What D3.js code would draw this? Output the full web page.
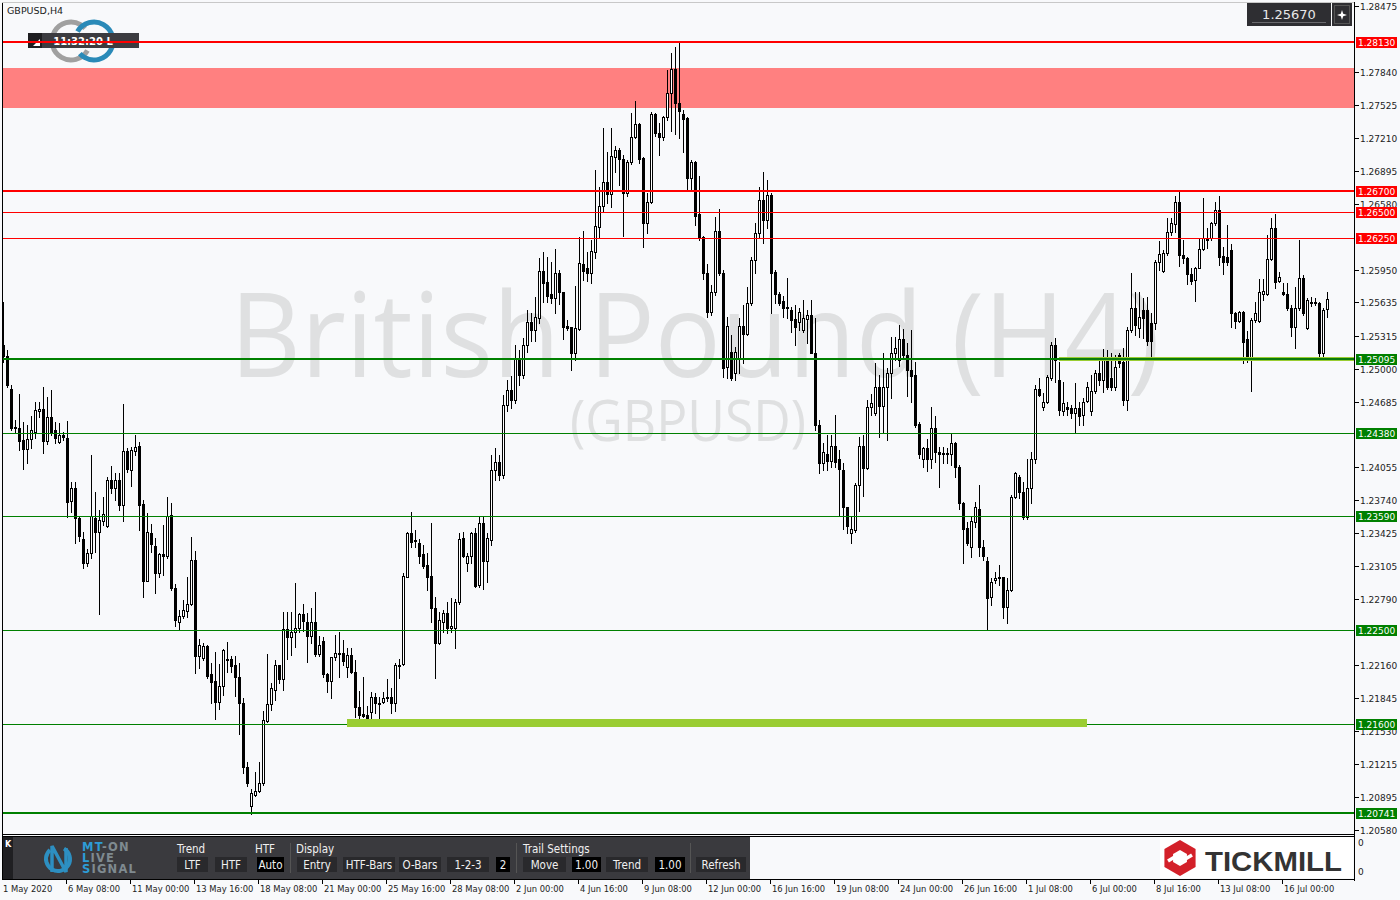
<!DOCTYPE html>
<html><head><meta charset="utf-8">
<script src="https://cdn.jsdelivr.net/npm/d3@7"></script>
<style>
html,body{margin:0;padding:0;background:#f8f9fb;}
svg{display:block;font-family:"DejaVu Sans",Verdana,sans-serif;}
</style></head><body>
<svg id="chart" width="1400" height="900"></svg>
<script>
// ---------------- DATA ----------------
const symbol = "GBPUSD,H4";
const currentPrice = 1.25670;
const open = [1.2523,1.2512,1.2481,1.2444,1.2443,1.2432,1.2423,1.2433,1.2439,1.2459,
1.2461,1.2431,1.2454,1.2441,1.2430,1.2436,1.2434,1.2373,1.2386,1.2357,
1.2337,1.2314,1.2323,1.2357,1.2344,1.2354,1.2349,1.2393,1.2386,1.2393,
1.2369,1.2421,1.2403,1.2421,1.2426,1.2370,1.2297,1.2343,1.2330,1.2304,
1.2322,1.2321,1.2360,1.2290,1.2257,1.2263,1.2268,1.2275,1.2317,1.2225,
1.2223,1.2234,1.2207,1.2201,1.2181,1.2196,1.2222,1.2222,1.2216,1.2205,
1.2180,1.2118,1.2081,1.2092,1.2095,1.2103,1.2162,1.2179,1.2192,1.2216,
1.2203,1.2251,1.2243,1.2248,1.2252,1.2265,1.2257,1.2244,1.2257,1.2227,
1.2239,1.2207,1.2201,1.2224,1.2228,1.2228,1.2214,1.2226,1.2209,1.2176,
1.2169,1.2168,1.2171,1.2185,1.2180,1.2181,1.2184,1.2185,1.2180,1.2216,
1.2217,1.2300,1.2343,1.2336,1.2333,1.2322,1.2312,1.2301,1.2271,1.2237,
1.2257,1.2266,1.2252,1.2252,1.2276,1.2338,1.2314,1.2321,1.2343,1.2293,
1.2352,1.2316,1.2336,1.2403,1.2411,1.2398,1.2465,1.2480,1.2470,1.2510,
1.2494,1.2523,1.2545,1.2537,1.2549,1.2594,1.2583,1.2572,1.2568,1.2592,
1.2573,1.2541,1.2540,1.2515,1.2538,1.2600,1.2596,1.2592,1.2612,1.2636,
1.2656,1.2679,1.2667,1.2703,1.2710,1.2701,1.2668,1.2698,1.2722,1.2734,
1.2702,1.2640,1.2660,1.2744,1.2726,1.2722,1.2741,1.2764,1.2787,1.2755,
1.2744,1.2740,1.2683,1.2698,1.2648,1.2626,1.2592,1.2554,1.2573,1.2632,
1.2592,1.2502,1.2516,1.2496,1.2509,1.2541,1.2533,1.2563,1.2604,1.2630,
1.2662,1.2642,1.2666,1.2593,1.2572,1.2565,1.2558,1.2556,1.2548,1.2545,
1.2537,1.2548,1.2551,1.2515,1.2446,1.2410,1.2418,1.2412,1.2426,1.2413,
1.2403,1.2367,1.2343,1.2345,1.2389,1.2426,1.2405,1.2463,1.2458,1.2482,
1.2464,1.2482,1.2496,1.2515,1.2508,1.2528,1.2513,1.2499,1.2494,1.2447,
1.2413,1.2424,1.2413,1.2443,1.2420,1.2419,1.2419,1.2418,1.2429,1.2406,
1.2371,1.2347,1.2329,1.2353,1.2366,1.2329,1.2316,1.2281,1.2298,1.2299,
1.2300,1.2272,1.2288,1.2377,1.2396,1.2382,1.2358,1.2386,1.2413,1.2481,
1.2463,1.2468,1.2491,1.2523,1.2489,1.2459,1.2463,1.2462,1.2458,1.2462,
1.2456,1.2469,1.2459,1.2479,1.2496,1.2489,1.2510,1.2491,1.2482,1.2513,
1.2506,1.2470,1.2537,1.2558,1.2539,1.2556,1.2556,1.2544,1.2544,1.2602,
1.2594,1.2611,1.2631,1.2639,1.2660,1.2609,1.2606,1.2591,1.2585,1.2596,
1.2615,1.2625,1.2625,1.2640,1.2652,1.2608,1.2607,1.2614,1.2553,1.2546,
1.2554,1.2528,1.2511,1.2547,1.2546,1.2572,1.2572,1.2605,1.2635,1.2584,
1.2573,1.2572,1.2558,1.2540,1.2558,1.2587,1.2539,1.2564,1.2564,1.2563,
1.2515,1.2557];
const high = [1.2564,1.2518,1.2484,1.2451,1.2476,1.2449,1.2446,1.2455,1.2468,1.2468,
1.2482,1.2473,1.2480,1.2449,1.2448,1.2439,1.2450,1.2391,1.2391,1.2358,
1.2344,1.2327,1.2417,1.2382,1.2365,1.2377,1.2396,1.2407,1.2400,1.2400,
1.2466,1.2424,1.2425,1.2436,1.2430,1.2374,1.2362,1.2351,1.2338,1.2323,
1.2350,1.2377,1.2371,1.2294,1.2269,1.2278,1.2300,1.2339,1.2325,1.2241,
1.2237,1.2235,1.2218,1.2229,1.2217,1.2231,1.2238,1.2225,1.2225,1.2218,
1.2184,1.2123,1.2097,1.2114,1.2123,1.2172,1.2227,1.2199,1.2221,1.2216,
1.2267,1.2267,1.2267,1.2295,1.2266,1.2275,1.2266,1.2271,1.2286,1.2244,
1.2243,1.2208,1.2224,1.2245,1.2248,1.2240,1.2232,1.2232,1.2221,1.2191,
1.2205,1.2177,1.2190,1.2189,1.2185,1.2190,1.2203,1.2194,1.2218,1.2222,
1.2304,1.2344,1.2363,1.2345,1.2337,1.2331,1.2323,1.2352,1.2281,1.2267,
1.2269,1.2276,1.2280,1.2279,1.2343,1.2344,1.2323,1.2344,1.2347,1.2358,
1.2359,1.2343,1.2417,1.2424,1.2417,1.2475,1.2489,1.2493,1.2523,1.2518,
1.2529,1.2556,1.2553,1.2569,1.2606,1.2612,1.2607,1.2602,1.2615,1.2595,
1.2573,1.2547,1.2540,1.2579,1.2626,1.2632,1.2612,1.2623,1.2690,1.2674,
1.2731,1.2708,1.2731,1.2713,1.2711,1.2705,1.2700,1.2745,1.2756,1.2735,
1.2703,1.2668,1.2746,1.2745,1.2735,1.2742,1.2786,1.2802,1.2808,1.2812,
1.2748,1.2741,1.2700,1.2699,1.2685,1.2627,1.2600,1.2580,1.2645,1.2653,
1.2595,1.2550,1.2532,1.2521,1.2549,1.2561,1.2578,1.2607,1.2640,1.2674,
1.2688,1.2681,1.2668,1.2595,1.2573,1.2570,1.2587,1.2559,1.2561,1.2558,
1.2566,1.2556,1.2566,1.2549,1.2451,1.2429,1.2436,1.2436,1.2456,1.2422,
1.2410,1.2367,1.2358,1.2390,1.2435,1.2436,1.2470,1.2476,1.2505,1.2494,
1.2515,1.2501,1.2530,1.2530,1.2542,1.2538,1.2525,1.2537,1.2506,1.2449,
1.2425,1.2433,1.2463,1.2455,1.2425,1.2425,1.2424,1.2437,1.2430,1.2408,
1.2372,1.2353,1.2358,1.2372,1.2389,1.2336,1.2320,1.2299,1.2305,1.2312,
1.2300,1.2299,1.2379,1.2401,1.2398,1.2391,1.2413,1.2420,1.2484,1.2491,
1.2477,1.2494,1.2526,1.2529,1.2506,1.2487,1.2468,1.2465,1.2486,1.2468,
1.2472,1.2487,1.2494,1.2499,1.2510,1.2519,1.2518,1.2515,1.2513,1.2515,
1.2520,1.2540,1.2592,1.2573,1.2573,1.2568,1.2569,1.2553,1.2604,1.2622,
1.2614,1.2644,1.2644,1.2665,1.2669,1.2623,1.2607,1.2596,1.2597,1.2625,
1.2664,1.2635,1.2641,1.2660,1.2665,1.2617,1.2638,1.2619,1.2554,1.2555,
1.2555,1.2536,1.2549,1.2564,1.2586,1.2586,1.2628,1.2644,1.2648,1.2593,
1.2582,1.2582,1.2561,1.2578,1.2623,1.2590,1.2568,1.2569,1.2568,1.2564,
1.2558,1.2573];
const low = [1.2506,1.2482,1.2441,1.2439,1.2422,1.2404,1.2410,1.2424,1.2434,1.2454,
1.2419,1.2428,1.2436,1.2429,1.2429,1.2432,1.2358,1.2363,1.2333,1.2335,
1.2309,1.2311,1.2319,1.2324,1.2265,1.2350,1.2348,1.2381,1.2374,1.2365,
1.2354,1.2401,1.2388,1.2417,1.2345,1.2281,1.2297,1.2324,1.2285,1.2300,
1.2302,1.2319,1.2288,1.2253,1.2251,1.2261,1.2262,1.2274,1.2208,1.2213,
1.2221,1.2204,1.2180,1.2164,1.2174,1.2187,1.2209,1.2209,1.2186,1.2150,
1.2113,1.2100,1.2073,1.2091,1.2094,1.2101,1.2161,1.2173,1.2183,1.2199,
1.2192,1.2222,1.2226,1.2233,1.2248,1.2249,1.2219,1.2237,1.2225,1.2225,
1.2205,1.2190,1.2184,1.2221,1.2205,1.2216,1.2205,1.2208,1.2166,1.2162,
1.2166,1.2161,1.2163,1.2170,1.2162,1.2180,1.2182,1.2170,1.2172,1.2204,
1.2216,1.2300,1.2329,1.2329,1.2314,1.2309,1.2288,1.2257,1.2204,1.2236,
1.2248,1.2247,1.2248,1.2232,1.2275,1.2320,1.2306,1.2314,1.2291,1.2291,
1.2289,1.2296,1.2331,1.2393,1.2393,1.2395,1.2459,1.2462,1.2467,1.2484,
1.2491,1.2516,1.2527,1.2527,1.2544,1.2564,1.2564,1.2563,1.2553,1.2562,
1.2528,1.2537,1.2499,1.2508,1.2537,1.2585,1.2584,1.2582,1.2606,1.2626,
1.2651,1.2659,1.2655,1.2688,1.2676,1.2627,1.2665,1.2696,1.2721,1.2697,
1.2617,1.2630,1.2659,1.2723,1.2705,1.2719,1.2738,1.2728,1.2725,1.2721,
1.2708,1.2671,1.2670,1.2638,1.2623,1.2586,1.2550,1.2551,1.2571,1.2590,
1.2492,1.2491,1.2489,1.2489,1.2496,1.2505,1.2532,1.2561,1.2592,1.2625,
1.2620,1.2635,1.2553,1.2563,1.2561,1.2550,1.2549,1.2535,1.2523,1.2537,
1.2535,1.2525,1.2515,1.2441,1.2400,1.2403,1.2403,1.2406,1.2406,1.2360,
1.2346,1.2343,1.2333,1.2344,1.2364,1.2378,1.2404,1.2456,1.2456,1.2435,
1.2439,1.2432,1.2472,1.2508,1.2503,1.2509,1.2474,1.2468,1.2444,1.2414,
1.2406,1.2402,1.2405,1.2411,1.2387,1.2410,1.2410,1.2408,1.2396,1.2366,
1.2314,1.2331,1.2320,1.2348,1.2321,1.2317,1.2250,1.2274,1.2295,1.2293,
1.2261,1.2256,1.2287,1.2376,1.2376,1.2356,1.2356,1.2371,1.2410,1.2474,
1.2460,1.2467,1.2489,1.2487,1.2456,1.2456,1.2456,1.2453,1.2438,1.2446,
1.2446,1.2468,1.2456,1.2477,1.2484,1.2478,1.2481,1.2480,1.2480,1.2502,
1.2465,1.2460,1.2535,1.2532,1.2530,1.2529,1.2523,1.2508,1.2538,1.2595,
1.2593,1.2609,1.2628,1.2631,1.2598,1.2601,1.2581,1.2581,1.2565,1.2596,
1.2614,1.2616,1.2623,1.2638,1.2599,1.2591,1.2599,1.2540,1.2539,1.2545,
1.2505,1.2506,1.2479,1.2545,1.2545,1.2566,1.2571,1.2604,1.2577,1.2583,
1.2571,1.2556,1.2531,1.2520,1.2556,1.2551,1.2538,1.2560,1.2561,1.2510,
1.2512,1.2550];
const close = [1.2512,1.2484,1.2443,1.2443,1.2431,1.2423,1.2433,1.2441,1.2460,1.2461,
1.2431,1.2454,1.2439,1.2434,1.2436,1.2435,1.2372,1.2386,1.2357,1.2340,
1.2314,1.2323,1.2359,1.2344,1.2355,1.2361,1.2393,1.2386,1.2393,1.2369,
1.2421,1.2404,1.2422,1.2425,1.2369,1.2297,1.2344,1.2332,1.2304,1.2322,
1.2321,1.2359,1.2290,1.2259,1.2263,1.2269,1.2275,1.2317,1.2225,1.2235,
1.2234,1.2206,1.2200,1.2181,1.2196,1.2230,1.2221,1.2215,1.2205,1.2180,
1.2118,1.2103,1.2093,1.2095,1.2103,1.2163,1.2179,1.2194,1.2216,1.2203,
1.2251,1.2243,1.2248,1.2252,1.2265,1.2258,1.2244,1.2257,1.2227,1.2235,
1.2207,1.2201,1.2224,1.2228,1.2227,1.2220,1.2226,1.2209,1.2176,1.2168,
1.2167,1.2163,1.2185,1.2180,1.2179,1.2184,1.2185,1.2180,1.2216,1.2215,
1.2301,1.2343,1.2334,1.2335,1.2321,1.2311,1.2300,1.2271,1.2237,1.2259,
1.2266,1.2252,1.2253,1.2276,1.2337,1.2321,1.2321,1.2343,1.2292,1.2352,
1.2316,1.2338,1.2403,1.2411,1.2398,1.2465,1.2480,1.2470,1.2510,1.2494,
1.2523,1.2545,1.2537,1.2550,1.2594,1.2582,1.2570,1.2568,1.2592,1.2573,
1.2540,1.2539,1.2515,1.2539,1.2601,1.2594,1.2592,1.2613,1.2637,1.2656,
1.2679,1.2667,1.2704,1.2710,1.2701,1.2668,1.2698,1.2722,1.2734,1.2701,
1.2640,1.2660,1.2744,1.2726,1.2722,1.2741,1.2764,1.2787,1.2755,1.2747,
1.2739,1.2683,1.2698,1.2646,1.2626,1.2592,1.2554,1.2573,1.2632,1.2592,
1.2501,1.2541,1.2491,1.2516,1.2541,1.2533,1.2563,1.2604,1.2630,1.2662,
1.2642,1.2666,1.2592,1.2572,1.2563,1.2558,1.2559,1.2547,1.2540,1.2554,
1.2549,1.2551,1.2515,1.2446,1.2410,1.2420,1.2412,1.2426,1.2411,1.2404,
1.2367,1.2349,1.2346,1.2389,1.2426,1.2405,1.2463,1.2467,1.2482,1.2464,
1.2482,1.2496,1.2515,1.2520,1.2528,1.2513,1.2499,1.2493,1.2446,1.2418,
1.2424,1.2413,1.2443,1.2420,1.2418,1.2418,1.2418,1.2429,1.2406,1.2371,
1.2346,1.2333,1.2354,1.2367,1.2329,1.2321,1.2280,1.2296,1.2299,1.2300,
1.2272,1.2288,1.2377,1.2400,1.2382,1.2358,1.2386,1.2413,1.2481,1.2475,
1.2468,1.2492,1.2523,1.2508,1.2460,1.2467,1.2461,1.2458,1.2462,1.2455,
1.2468,1.2482,1.2479,1.2496,1.2489,1.2510,1.2482,1.2482,1.2502,1.2505,
1.2470,1.2537,1.2558,1.2542,1.2550,1.2549,1.2527,1.2527,1.2602,1.2610,
1.2611,1.2631,1.2640,1.2660,1.2609,1.2606,1.2591,1.2584,1.2596,1.2615,
1.2625,1.2623,1.2640,1.2652,1.2607,1.2602,1.2602,1.2553,1.2546,1.2554,
1.2526,1.2511,1.2547,1.2553,1.2573,1.2574,1.2605,1.2635,1.2583,1.2588,
1.2572,1.2558,1.2540,1.2558,1.2587,1.2553,1.2566,1.2563,1.2563,1.2515,
1.2556,1.2567];
const timeLabels = ["1 May 2020","6 May 08:00","11 May 00:00","13 May 16:00","18 May 08:00","21 May 00:00","25 May 16:00","28 May 08:00","2 Jun 00:00","4 Jun 16:00","9 Jun 08:00","12 Jun 00:00","16 Jun 16:00","19 Jun 08:00","24 Jun 00:00","26 Jun 16:00","1 Jul 08:00","6 Jul 00:00","8 Jul 16:00","13 Jul 08:00","16 Jul 00:00"];
const barsPerLabel = 16;
const priceTicks = [1.28475,1.27840,1.27525,1.27210,1.26895,1.26580,1.25950,1.25635,1.25315,1.25000,1.24685,1.24055,1.23740,1.23425,1.23105,1.22790,1.22160,1.21845,1.21530,1.21215,1.20895,1.20580];
const resistanceLevels = [1.28130,1.26700,1.26500,1.26250];
const supportLevels = [1.25095,1.24380,1.23590,1.22500,1.21600,1.20741];
const supplyZone = [1.2750,1.2788];
const zoneHighlights = [{level:1.21600, fromBar:86, toBar:271},{level:1.25095, fromBar:264, toBar:340}];
const majorLevels = [1.28130,1.26700,1.25095,1.20741];

// ---------------- LAYOUT ----------------
const svg = d3.select("#chart");
const L = 3, R = 1354, T = 3, B = 834;
const y = d3.scaleLinear().domain([1.20580, 1.28475]).range([830, 6]);
const x = d3.scaleLinear().domain([0, 1]).range([3, 7]);
const bg = "#f8f9fb";

svg.append("rect").attr("width",1400).attr("height",900).attr("fill",bg);
const defs = svg.append("defs");
defs.append("clipPath").attr("id","plotclip").append("rect").attr("x",L).attr("y",T).attr("width",R-L).attr("height",B-T);

const plot = svg.append("g").attr("clip-path","url(#plotclip)");

// supply zone (background)
plot.append("rect").attr("x",L).attr("width",R-L)
  .attr("y",Math.round(y(supplyZone[1]))).attr("height",Math.round(y(supplyZone[0]))-Math.round(y(supplyZone[1])))
  .attr("fill","#ff8080");

// watermark
plot.append("text").attr("x",695).attr("y",377).attr("text-anchor","middle")
  .attr("font-family","'Open Sans','Noto Sans',sans-serif").attr("font-size",118)
  .attr("textLength",930).attr("lengthAdjust","spacingAndGlyphs")
  .attr("fill","#dfe0e1").text("British Pound (H4)");
plot.append("text").attr("x",688).attr("y",441).attr("text-anchor","middle")
  .attr("font-family","'Open Sans','Noto Sans',sans-serif").attr("font-size",56)
  .attr("textLength",236).attr("lengthAdjust","spacingAndGlyphs")
  .attr("fill","#dfe0e1").text("(GBPUSD)");

// candles
const bars = open.map((o,i)=>({i,o,h:high[i],l:low[i],c:close[i]}));
const cg = plot.append("g");
const candle = cg.selectAll("g.c").data(bars).join("g").attr("class","c");
candle.append("rect")
  .attr("x",d=>Math.round(x(d.i)))
  .attr("y",d=>Math.round(y(d.h)))
  .attr("width",1)
  .attr("height",d=>Math.max(1,Math.round(y(d.l))-Math.round(y(d.h))+1))
  .attr("fill","#000");
candle.append("rect")
  .each(function(d){
    const cx = Math.round(x(d.i));
    const yo = Math.round(y(d.o)), yc = Math.round(y(d.c));
    const top = Math.min(yo,yc), bot = Math.max(yo,yc);
    const s = d3.select(this);
    if (d.c >= d.o) {
      s.attr("x",cx-0.5).attr("y",top+0.5).attr("width",2).attr("height",Math.max(0,bot-top))
       .attr("fill","#ffffff").attr("stroke","#000").attr("stroke-width",1);
    } else {
      s.attr("x",cx-1).attr("y",top).attr("width",3).attr("height",Math.max(1,bot-top+1)).attr("fill","#000");
    }
  });

// horizontal levels
function lvlY(v){ return Math.round(y(v)); }
resistanceLevels.forEach(v=>{
  const w = majorLevels.includes(v) ? 2 : 1;
  plot.append("rect").attr("x",L).attr("width",R-L).attr("y",lvlY(v)-(w>1?1:0)).attr("height",w).attr("fill","#ff0000");
});
supportLevels.forEach(v=>{
  const w = majorLevels.includes(v) ? 2 : 1;
  plot.append("rect").attr("x",L).attr("width",R-L).attr("y",lvlY(v)-(w>1?1:0)).attr("height",w).attr("fill","#008000");
});
// highlighted zones
zoneHighlights.forEach(z=>{
  const x0 = Math.round(x(z.fromBar)), x1 = Math.min(R, Math.round(x(z.toBar)));
  if (z.level === 1.21600) {
    plot.append("rect").attr("x",x0).attr("width",x1-x0).attr("y",lvlY(z.level)-5).attr("height",8).attr("fill","#9acd32");
  } else {
    plot.append("rect").attr("x",x0).attr("width",x1-x0).attr("y",lvlY(z.level)-2).attr("height",4).attr("fill","#9acd32");
    plot.append("rect").attr("x",x0).attr("width",x1-x0).attr("y",lvlY(z.level)-1).attr("height",2).attr("fill","#0a7a0a");
  }
});

// top-left symbol + logo
svg.append("text").attr("x",7).attr("y",14).attr("font-size",9.5).attr("fill","#222").text(symbol);
const logo = svg.append("g");
logo.append("circle").attr("cx",71).attr("cy",41).attr("r",19).attr("fill","none").attr("stroke","#a0a0a0").attr("stroke-width",5)
  .attr("stroke-dasharray","95 25").attr("transform","rotate(30 71 41)");
logo.append("circle").attr("cx",94).attr("cy",41).attr("r",19).attr("fill","none").attr("stroke","#2a8ab8").attr("stroke-width",5)
  .attr("stroke-dasharray","95 25").attr("transform","rotate(210 94 41)");
svg.append("rect").attr("x",28).attr("y",33).attr("width",111).attr("height",15).attr("fill","#3c3c40");
svg.append("rect").attr("x",28).attr("y",33).attr("width",14).attr("height",15).attr("fill","#1e1e20");
svg.append("path").attr("d","M33 46 L40 46 L40 39 Z").attr("fill","#fff");
svg.append("text").attr("x",83).attr("y",44.5).attr("text-anchor","middle").attr("font-size",10).attr("font-weight","bold").attr("fill","#fff").text("11:32:20 L");
// red top line drawn over the clock box
svg.append("rect").attr("x",L).attr("width",R-L).attr("y",lvlY(resistanceLevels[0])-1).attr("height",2).attr("fill","#ff0000");

// price box top right
svg.append("rect").attr("x",1247).attr("y",3).attr("width",84).attr("height",23).attr("fill","#2e2e32");
svg.append("rect").attr("x",1252).attr("y",22).attr("width",74).attr("height",1).attr("fill","#6a6a6e");
svg.append("text").attr("x",1289).attr("y",19).attr("text-anchor","middle").attr("font-size",13).attr("fill","#e8e8e8").text(currentPrice.toFixed(5));
svg.append("rect").attr("x",1332).attr("y",3).attr("width",20).attr("height",23).attr("fill","#2e2e32");
svg.append("rect").attr("x",1334.5).attr("y",5.5).attr("width",15).attr("height",18).attr("fill","none").attr("stroke","#555").attr("stroke-width",1);
svg.append("path").attr("d","M1342 10 L1343.2 13.8 L1347 15 L1343.2 16.2 L1342 20 L1340.8 16.2 L1337 15 L1340.8 13.8 Z").attr("fill","#fff");

// frame
svg.append("rect").attr("x",2).attr("y",2).attr("width",1).attr("height",878).attr("fill","#000");
svg.append("rect").attr("x",2).attr("y",2).attr("width",1353).attr("height",1).attr("fill","#c8c8c8");
svg.append("rect").attr("x",R).attr("y",2).attr("width",1).attr("height",879).attr("fill","#000");
svg.append("rect").attr("x",2).attr("y",B).attr("width",R-1).attr("height",1).attr("fill","#000");
svg.append("rect").attr("x",2).attr("y",836).attr("width",R-1).attr("height",1).attr("fill","#000");
svg.append("rect").attr("x",2).attr("y",879).attr("width",R-1).attr("height",1).attr("fill","#000");

// price axis
const ax = svg.append("g").attr("font-size",9).attr("fill","#222");
priceTicks.forEach(p=>{
  const yy = lvlY(p);
  ax.append("rect").attr("x",R+1).attr("y",yy).attr("width",4).attr("height",1).attr("fill","#000");
  ax.append("text").attr("x",1360).attr("y",yy+3.5).text(p.toFixed(5));
});
// level labels
function levelLabel(v,color){
  const yy = lvlY(v);
  svg.append("rect").attr("x",1356).attr("y",yy-5).attr("width",41).attr("height",11).attr("fill",color);
  svg.append("text").attr("x",1358).attr("y",yy+4).attr("font-size",9).attr("fill","#fff").text(v.toFixed(5));
}
resistanceLevels.forEach(v=>levelLabel(v,"#ff0000"));
supportLevels.forEach(v=>levelLabel(v,"#008000"));

// indicator window zeros
svg.append("text").attr("x",1358).attr("y",846).attr("font-size",9).attr("fill","#222").text("0");
svg.append("text").attr("x",1358).attr("y",875).attr("font-size",9).attr("fill","#222").text("0");

// time axis
const tx = svg.append("g").attr("font-size",8.4).attr("fill","#222");
timeLabels.forEach((t,k)=>{
  const xx = Math.round(x(k*barsPerLabel)) - 1;
  if (k>0) tx.append("rect").attr("x",xx).attr("y",880).attr("width",1).attr("height",4).attr("fill","#000");
  tx.append("text").attr("x",k===0?3:xx+2).attr("y",892).text(t);
});

// ---------- MT-ON toolbar ----------
const tb = svg.append("g").attr("font-family","'Liberation Sans Narrow','DejaVu Sans Condensed','DejaVu Sans',sans-serif");
tb.append("rect").attr("x",3).attr("y",837).attr("width",747).attr("height",42).attr("fill","#3a3a3e");
tb.append("rect").attr("x",3).attr("y",837).attr("width",10).attr("height",42).attr("fill","#1f1f22");
tb.append("text").attr("x",5).attr("y",847).attr("font-size",9).attr("font-weight","bold").attr("fill","#fff").text("K");
// logo icon
tb.append("circle").attr("cx",58).attr("cy",859).attr("r",12).attr("fill","none").attr("stroke","#2d8fc1").attr("stroke-width",4)
  .attr("stroke-dasharray","60 16").attr("transform","rotate(-60 58 859)");
tb.append("path").attr("d","M52 872 L52 846 L66 872 L66 848").attr("fill","none").attr("stroke","#2d8fc1").attr("stroke-width",3.5);
function logoLine(first, rest, yy){
  const t = tb.append("text").attr("x",82).attr("y",yy).attr("font-size",11.5).attr("font-weight","bold").attr("letter-spacing",1.2)
    .attr("font-family","'DejaVu Sans',sans-serif");
  t.append("tspan").attr("fill","#2d9cd6").text(first);
  t.append("tspan").attr("fill","#7f8a90").text(rest);
}
logoLine("MT","-ON",851);
logoLine("L","IVE",862);
logoLine("S","IGNAL",873);
function lab(t,xx){ tb.append("text").attr("x",xx).attr("y",853).attr("font-size",11.5).attr("fill","#f0f0f0").text(t); }
function btn(t,x0,x1,dark){
  tb.append("rect").attr("x",x0).attr("y",857).attr("width",x1-x0).attr("height",15).attr("fill",dark?"#000":"#29292c");
  tb.append("text").attr("x",(x0+x1)/2).attr("y",868.5).attr("text-anchor","middle").attr("font-size",11.5).attr("fill","#f0f0f0").text(t);
}
lab("Trend",177); lab("HTF",255); lab("Display",296); lab("Trail Settings",523);
btn("LTF",177,208); btn("HTF",215,247); btn("Auto",257,284,true);
btn("Entry",297,337); btn("HTF-Bars",343,395); btn("O-Bars",399,441); btn("1-2-3",447,489); btn("2",496,510,true);
btn("Move",523,566); btn("1.00",572,601,true); btn("Trend",606,648); btn("1.00",655,685,true);
btn("Refresh",696,746);
[290,516,690].forEach(xx=>tb.append("rect").attr("x",xx).attr("y",843).attr("width",1).attr("height",30).attr("fill","#555"));

// ---------- Tickmill logo ----------
const tk = svg.append("g");
tk.append("rect").attr("x",1160).attr("y",837).attr("width",193).attr("height",41).attr("fill","#fff");
const hx = 1180, hy = 858, hr = 18;
const hex = d3.range(6).map(k=>{const a=Math.PI/180*(60*k-90);return [hx+hr*Math.cos(a),hy+hr*Math.sin(a)];});
tk.append("path").attr("d","M"+hex.map(p=>p.join(",")).join("L")+"Z").attr("fill","#d32029");
const hex2 = d3.range(6).map(k=>{const a=Math.PI/180*(60*k-90);return [hx+8*Math.cos(a),hy+8*Math.sin(a)];});
tk.append("path").attr("d","M"+hex2.map(p=>p.join(",")).join("L")+"Z").attr("fill","#fff");
tk.append("path").attr("d",`M${hx-12},${hy+3} L${hx-2},${hy-3} M${hx+2},${hy+3} L${hx+12},${hy-3}`).attr("stroke","#fff").attr("stroke-width",3.5);
tk.append("text").attr("x",1205).attr("y",871).attr("font-family","'Liberation Sans','DejaVu Sans',sans-serif").attr("font-weight","bold")
  .attr("font-size",28).attr("textLength",137).attr("lengthAdjust","spacingAndGlyphs").attr("fill","#333").text("TICKMILL");
</script>
</body></html>
